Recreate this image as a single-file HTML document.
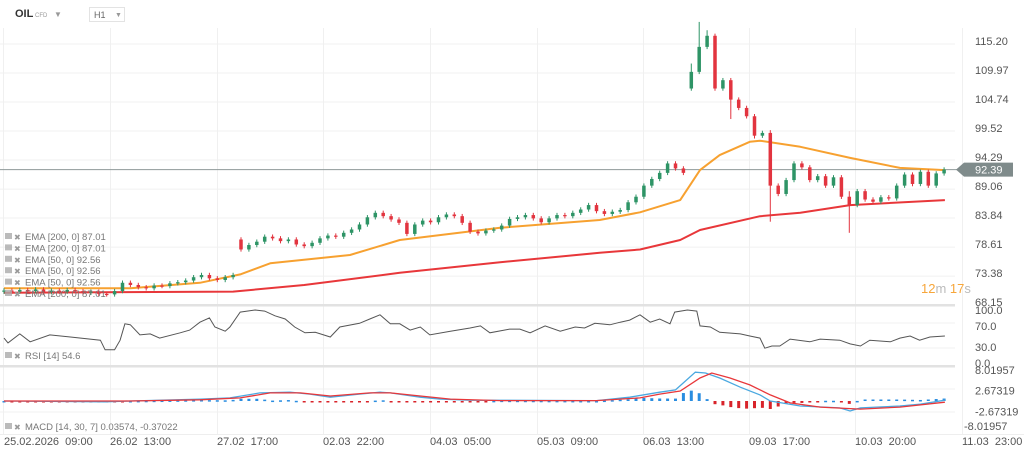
<!DOCTYPE html>
<html><head><meta charset="utf-8">
<style>
html,body{margin:0;padding:0;background:#fff;width:1024px;height:456px;overflow:hidden;font-family:"Liberation Sans",sans-serif;}
svg{display:block}
</style></head>
<body>
<svg id="chart" width="1024" height="456" xmlns="http://www.w3.org/2000/svg">
<g id="grid"></g>
<g id="main"></g>
<g id="rsi"></g>
<g id="macd"></g>
<g id="axes"></g>
<g>
 <text x="15" y="17" font-size="11" font-weight="bold" fill="#333">OIL</text>
 <text x="35" y="17" font-size="6" fill="#999">CFD</text>
 <text x="54" y="17" font-size="8" fill="#999">▼</text>
 <rect x="89.5" y="7.5" width="35" height="14" fill="#fff" stroke="#e3e3e3"/>
 <text x="94" y="18" font-size="9" fill="#666">H1</text>
 <text x="115" y="17" font-size="7" fill="#999">▼</text>
</g>
<g>
 <text x="921" y="293" font-size="13"><tspan fill="#f7a63a">12</tspan><tspan fill="#bbb">m </tspan><tspan fill="#f7a63a">17</tspan><tspan fill="#bbb">s</tspan></text>
</g>
</svg>
<script>
// ---- data ----
const closes=[70.6,70.4,70.7,70.5,70.8,70.3,70.6,70.4,70.7,70.5,70.2,70.4,70.0,69.9,70.5,72.0,71.6,71.2,71.0,71.5,71.4,71.9,72.1,72.4,73.0,73.4,72.8,72.5,73.0,73.4,
78.0,78.8,79.4,80.3,80.0,79.5,79.8,78.9,78.6,79.2,80.0,80.5,80.3,81.0,81.6,82.5,83.8,84.6,84.0,83.4,82.8,80.8,82.5,83.2,82.9,83.8,84.3,84.0,82.8,81.2,
80.9,81.4,81.6,82.3,83.5,83.8,84.2,83.6,82.9,83.6,84.2,84.0,84.6,85.2,86.0,84.9,84.4,84.8,85.1,86.5,87.5,89.5,90.7,91.8,93.5,92.6,91.8,110.0,114.5,116.5,
107.0,108.5,105.0,103.5,102.0,98.5,99.0,89.5,88.0,90.5,93.5,92.8,90.5,91.2,89.5,91.0,87.5,86.0,88.5,87.0,86.6,87.4,87.2,89.5,91.5,89.8,92.0,89.5,91.7,92.4];
const gapOpens={0:70.4,30:79.8,87:107.0};
const wickHigh={87:111.5,88:119.0,89:117.5,97:99.5,107:88.5};
const wickLow={97:83.0,107:81.0,92:101.5,95:98};
const ema50Bars=[0,16,24.8,29.9,33.7,43.8,50.1,62.8,75.4,80.5,85.6,88.1,90.6,94.4,95.7,100.8,107.1,113.4,119.1];
const ema50Vals=[71,71,72,73.5,75.5,77,79.7,81.9,83.3,84.7,86.9,92.3,95,97.4,97.6,96.5,94.5,92.7,92.3];
const ema200Bars=[0,29,38,50.1,62.8,75.4,80.5,85.6,88.1,95.7,100.8,107.1,119.1];
const ema200Vals=[70.2,70.4,71.6,73.8,75.7,77.4,78,79.7,81.5,84,84.6,86,86.9];
const rsiBars=[0,0.5,2,3.3,5.8,8.4,12.2,12.8,14,14.7,15.3,16,17.2,18.5,19.7,22.3,23.5,24.8,26,26.7,28,28.6,29.9,31.8,33,34.3,35.6,36.8,38.1,39.4,41.3,42.5,45,46.3,47.6,48.9,50.1,51.4,52.7,53.9,56.5,59,60.3,61.5,64,65.3,66.6,68.5,70.4,72.3,73.5,74.8,76.7,78,79.2,80.5,81.8,83,84.3,84.9,86.5,87.7,88.1,89.4,90.6,93.2,94.4,95.7,96.3,97.2,98.2,99.5,102,103.3,105.8,107.1,108.4,109.6,112.2,113.4,114.7,115.9,117.2,119.1];
const rsiVals=[47,38,55,40,53,49,43,25,25,43,74,72,53,55,47,57,62,77,85,68,60,68,96,100,98,89,83,68,57,58,49,68,75,83,91,74,74,62,68,53,60,66,70,57,64,64,57,70,60,68,66,75,72,77,81,91,77,83,74,96,100,98,70,68,58,55,51,47,28,32,32,45,40,45,43,36,32,43,40,47,51,43,49,51];
const macdBars=[0,12.8,16,24.8,28.6,32.4,36.2,38.7,41.3,45,47.6,48.9,52.7,55.2,59,75,79.2,83,85,87.5,88.8,90.6,93.2,95.7,97,100.8,105.8,107.1,108.4,113.4,116,119.1];
const macdVals=[0,-0.2,0,0.5,0.8,2.1,2.3,1.8,1.0,1.8,2.3,2.1,1.0,0.5,0.2,0.1,1.0,2.3,2.9,7.5,7.3,6.0,3.6,1.6,0,-1.3,-1.8,-2.6,-1.8,-1.3,-0.8,0.2];
const sigBars=[0,16,24.8,29.9,33.7,37.5,41.3,46.3,48.9,52.7,56.5,62.8,75,80.5,83,85.6,88.1,89.6,91.9,94.4,97,99.5,103.3,108.4,113.4,119.1];
const sigVals=[0,0,0.3,0.8,2.1,2.1,1.3,2.1,2.1,1.3,0.5,0.1,0.1,0.8,1.8,2.6,6.0,7.3,6.0,4.2,1.6,-0.5,-1.6,-2.1,-1.6,-0.3];
const priceTicks=[115.20,109.97,104.74,99.52,94.29,89.06,83.84,78.61,73.38,68.15];
const rsiTicks=[100,70,30,0];
const macdTicks=[8.01957,2.67319,-2.67319,-8.01957];
const timeLabels=["25.02.2026  09:00","26.02  13:00","27.02  17:00","02.03  22:00","04.03  05:00","05.03  09:00","06.03  13:00","09.03  17:00","10.03  20:00","11.03  23:00"];
const timeGridX=[3,110,217,323,430,537,643,749,855,962];
const lastPrice=92.39;
const legendLines=["EMA [200, 0] 87.01","EMA [200, 0] 87.01","EMA [50, 0] 92.56","EMA [50, 0] 92.56","EMA [50, 0] 92.56","EMA [200, 0] 87.01"];

// ---- scales ----
const X=b=>4+b*7.9;
const Y=p=>43+(115.2-p)*5.55;
const RY=v=>363-v*0.53;
const MY=v=>401-v*3.84;
const NS="http://www.w3.org/2000/svg";
function mk(parent,tag,attrs){const e=document.createElementNS(NS,tag);for(const k in attrs)e.setAttribute(k,attrs[k]);parent.appendChild(e);return e;}
function interp(bars,vals,b){for(let i=0;i<bars.length-1;i++){if(b>=bars[i]&&b<=bars[i+1]){const t=(b-bars[i])/(bars[i+1]-bars[i]);return vals[i]+t*(vals[i+1]-vals[i]);}}return vals[vals.length-1];}
function poly(bars,vals,fy){return bars.map((b,i)=>X(b).toFixed(1)+","+fy(vals[i]).toFixed(1)).join(" ");}

const grid=document.getElementById('grid'),main=document.getElementById('main'),rsi=document.getElementById('rsi'),macd=document.getElementById('macd'),axes=document.getElementById('axes');
timeGridX.forEach(x=>{const l=mk(grid,'line',{x1:x+.5,x2:x+.5,y1:28,y2:434,stroke:'#f0f0f0'});

});
priceTicks.forEach(p=>{const l=mk(grid,'line',{x1:0,x2:955,y1:Y(p)+1,y2:Y(p)+1,stroke:'#f0f0f0'});

});
[323,348,389,412].forEach(y=>{mk(grid,'line',{x1:0,x2:955,y1:y,y2:y,stroke:'#f0f0f0'});});
[[305,'rsi-separator'],[366,'macd-separator']].forEach(([y,n])=>{const r=mk(grid,'rect',{x:0,y:y-1,width:955,height:2.5,fill:'#e2e2e2'});

});
mk(grid,'line',{x1:0,x2:1024,y1:434.5,y2:434.5,stroke:'#eee'});

const lp=mk(main,'line',{x1:0,x2:958,y1:Y(lastPrice),y2:Y(lastPrice),stroke:'#8f9a9a','stroke-width':1});



const e200=mk(main,'polyline',{points:poly(ema200Bars,ema200Vals,Y),fill:'none',stroke:'#e8373a','stroke-width':2,'stroke-linejoin':'round'});


const e50=mk(main,'polyline',{points:poly(ema50Bars,ema50Vals,Y),fill:'none',stroke:'#f7a130','stroke-width':2,'stroke-linejoin':'round'});



closes.forEach((c,i)=>{
 const o=(gapOpens[i]!==undefined)?gapOpens[i]:closes[i-1];
 const up=c>=o, col=up?'#2e9466':'#e2343f';
 const hi=wickHigh[i]!==undefined?wickHigh[i]:Math.max(o,c)+0.4;
 const lo=wickLow[i]!==undefined?wickLow[i]:Math.min(o,c)-0.4;
 const g=mk(main,'g',{});
 
 
 mk(g,'line',{x1:X(i),x2:X(i),y1:Y(hi),y2:Y(lo),stroke:col,'stroke-width':1});
 const top=Y(Math.max(o,c)),bot=Y(Math.min(o,c));
 mk(g,'rect',{x:X(i)-1.75,y:top,width:3.5,height:Math.max(1.2,bot-top),fill:col});
});

legendLines.forEach((t,i)=>{const y=240+i*11.4;
 const g=mk(main,'g',{});
 
 
 mk(g,'rect',{x:5,y:y-7,width:7,height:6,fill:'#aaa',opacity:.8});
 const x=mk(g,'text',{x:14,y:y,'font-size':8,fill:'#999'});x.textContent='✖';
 const tx=mk(g,'text',{x:25,y:y,'font-size':9.5,fill:'#777'});tx.textContent=t;});

const tag=mk(main,'path',{d:`M956 ${Y(lastPrice)} L964 ${Y(lastPrice)-7} L1013 ${Y(lastPrice)-7} L1013 ${Y(lastPrice)+7} L964 ${Y(lastPrice)+7} Z`,fill:'#7f8b8b'});


const tt=mk(main,'text',{x:975,y:Y(lastPrice)+4,'font-size':11,fill:'#fff'});tt.textContent=lastPrice.toFixed(2);

priceTicks.forEach(p=>{if(Math.abs(Y(p)-Y(lastPrice))<8)return;const t=mk(axes,'text',{x:975,y:Y(p)+2,'font-size':11,fill:'#555'});t.textContent=p.toFixed(2);

});

const rl=mk(rsi,'polyline',{points:poly(rsiBars,rsiVals,RY),fill:'none',stroke:'#555','stroke-width':1});


rsiTicks.forEach(v=>{const t=mk(axes,'text',{x:975,y:RY(v)+4,'font-size':11,fill:'#555'});t.textContent=v.toFixed(1);

});
(function(){const g=mk(rsi,'g',{});


mk(g,'rect',{x:5,y:352,width:7,height:6,fill:'#aaa',opacity:.8});
const a=mk(g,'text',{x:14,y:359,'font-size':8,fill:'#999'});a.textContent='✖';
const b=mk(g,'text',{x:25,y:359,'font-size':9.5,fill:'#777'});b.textContent='RSI [14]  54.6';})();

for(let i=0;i<closes.length;i++){const h=interp(macdBars,macdVals,i)-interp(sigBars,sigVals,i);
 const y0=MY(0),y1=MY(h*1.3);const col=h>=0?'#2a8de0':'#d8232a';
 const r=mk(macd,'rect',{x:X(i)-1.5,y:Math.min(y0,y1),width:3,height:Math.max(1.5,Math.abs(y1-y0)),fill:col});
 
 }
const ml=mk(macd,'polyline',{points:poly(macdBars,macdVals,MY),fill:'none',stroke:'#4aa8e0','stroke-width':1.3});


const sl=mk(macd,'polyline',{points:poly(sigBars,sigVals,MY),fill:'none',stroke:'#e8373a','stroke-width':1.3});


macdTicks.forEach((v,i)=>{const t=mk(axes,'text',{x:i==3?964:975,y:MY(v)+(i==3?-2:4),'font-size':11,fill:'#555'});t.textContent=v.toFixed(5);

});
(function(){const g=mk(macd,'g',{});


mk(g,'rect',{x:5,y:423,width:7,height:6,fill:'#aaa',opacity:.8});
const a=mk(g,'text',{x:14,y:430,'font-size':8,fill:'#999'});a.textContent='✖';
const b=mk(g,'text',{x:25,y:430,'font-size':9.5,fill:'#777'});b.textContent='MACD [14, 30, 7] 0.03574,  -0.37022';})();

timeLabels.forEach((s,i)=>{const t=mk(axes,'text',{x:timeGridX[i]+(i==0?1:0),y:445,'font-size':11,fill:'#555','xml:space':'preserve'});t.textContent=s;t.style.whiteSpace='pre';

});
</script>
</body></html>
